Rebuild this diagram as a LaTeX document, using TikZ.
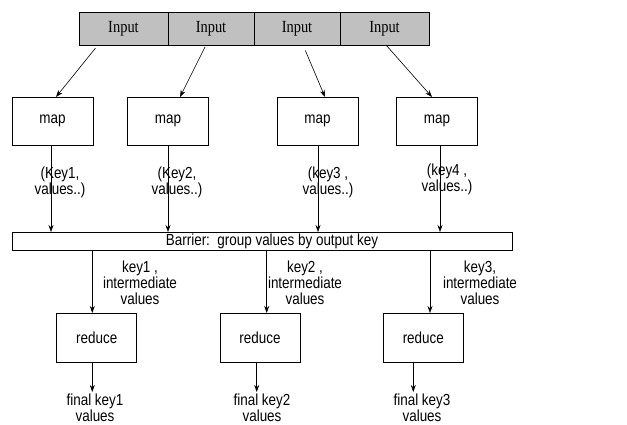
\documentclass[tikz,border=0pt]{standalone}
\usepackage{fontspec}
\setmainfont{Liberation Sans}[FakeStretch=0.84]
\newfontfamily\inputfont{Liberation Serif}[FakeStretch=0.85]
\usetikzlibrary{arrows.meta,calc}
\definecolor{ingray}{HTML}{C0C0C0}
\newcommand{\sansfs}{\fontsize{16}{16}\selectfont}
\begin{document}
\begin{tikzpicture}[x=1pt,y=-1pt,
  every node/.style={inner sep=0pt,outer sep=0pt},
  inbox/.style={draw,line width=0.8pt,fill=ingray,minimum height=33pt,font=\inputfont\fontsize{17}{17}\selectfont},
  procbox/.style={draw,line width=0.8pt,fill=white,minimum width=81pt,minimum height=48pt,font=\sansfs},
  lbl/.style={align=center,font=\fontsize{16}{11.5}\selectfont},
  lblb/.style={align=center,font=\fontsize{16}{16}\selectfont},
  lblc/.style={align=center,font=\fontsize{16}{14.5}\selectfont},
  arr/.style={line width=0.6pt,-{Stealth[length=7pt,width=5pt]}}]
\useasboundingbox (0,0) rectangle (627,425);
% inputs
\node[inbox,minimum width=89pt] (i1) at (123.5,28.5) {Input};
\node[inbox,minimum width=86pt] (i2) at (211,28.5) {Input};
\node[inbox,minimum width=86pt] (i3) at (297,28.5) {Input};
\node[inbox,minimum width=89pt] (i4) at (384.5,28.5) {Input};
% maps
\node[procbox] (m1) at (52.5,121) {map};
\node[procbox] (m2) at (168,121) {map};
\node[procbox] (m3) at (317.5,121) {map};
\node[procbox] (m4) at (437,121) {map};
% input -> map
\draw[arr,shorten <=4pt] ([xshift=-25.5pt]i1.south) -- ([xshift=3.5pt]m1.north);
\draw[arr,shorten <=2pt] ([xshift=-5pt]i2.south) -- ([xshift=12pt]m2.north);
\draw[arr,shorten <=6pt] ([xshift=6pt]i3.south) -- ([xshift=7.5pt]m3.north);
\draw[arr] ([xshift=1.5pt]i4.south) -- ([xshift=-5pt]m4.north);
% barrier
\node[draw,line width=0.8pt,fill=white,minimum width=500pt,minimum height=18pt,font=\sansfs] (bar) at (262,241) {\hspace*{20pt}Barrier:\ \ group values by output key};
% map -> barrier
\draw[arr] ([xshift=-1.5pt]m1.south) -- ([xshift=-1.5pt]m1.south |- bar.north);
\draw[arr] (m2.south) -- (m2.south |- bar.north);
\draw[arr] ([xshift=0.5pt]m3.south) -- ([xshift=0.5pt]m3.south |- bar.north);
\draw[arr] ([xshift=3pt]m4.south) -- ([xshift=3pt]m4.south |- bar.north);
% map labels
\node[lbl] (k1) at (60,182) {(Key1,\\values..)};
\node[lbl] (k2) at (177,182) {(Key2,\\values..)};
\node[lbl] (k3) at (328,182) {(key3 ,\\values..)};
\node[lbl] (k4) at (447,179) {(key4 ,\\values..)};
% reduces
\node[procbox,minimum width=80pt,minimum height=49pt] (r1) at (96.7,337.5) {reduce};
\node[procbox,minimum width=80pt,minimum height=49pt] (r2) at (260,337.5) {reduce};
\node[procbox,minimum width=80pt,minimum height=49pt] (r3) at (423.3,337.5) {reduce};
% barrier -> reduce
\draw[arr] ([xshift=-4.4pt]r1.north |- bar.south) -- ([xshift=-4.4pt]r1.north);
\draw[arr] ([xshift=6.7pt]r2.north |- bar.south) -- ([xshift=6.7pt]r2.north);
\draw[arr] ([xshift=6.7pt]r3.north |- bar.south) -- ([xshift=6.7pt]r3.north);
% intermediate labels
\node[lblb] (n1) at (140,283) {key1 ,\\intermediate\\values};
\node[lblb] (n2) at (305,283) {key2 ,\\intermediate\\values};
\node[lblb] (n3) at (480,283) {key3,\\intermediate\\values};
% reduce -> final
\coordinate (f1) at (92.3,392);
\coordinate (f2) at (256.7,392);
\coordinate (f3) at (413.3,392);
\draw[arr] (r1.south -| f1) -- (f1);
\draw[arr] (r2.south -| f2) -- (f2);
\draw[arr] (r3.south -| f3) -- (f3);
\node[lblc] (o1) at (95,408) {final key1\\values};
\node[lblc] (o2) at (262,408) {final key2\\values};
\node[lblc] (o3) at (422,408) {final key3\\values};
\end{tikzpicture}
\end{document}
